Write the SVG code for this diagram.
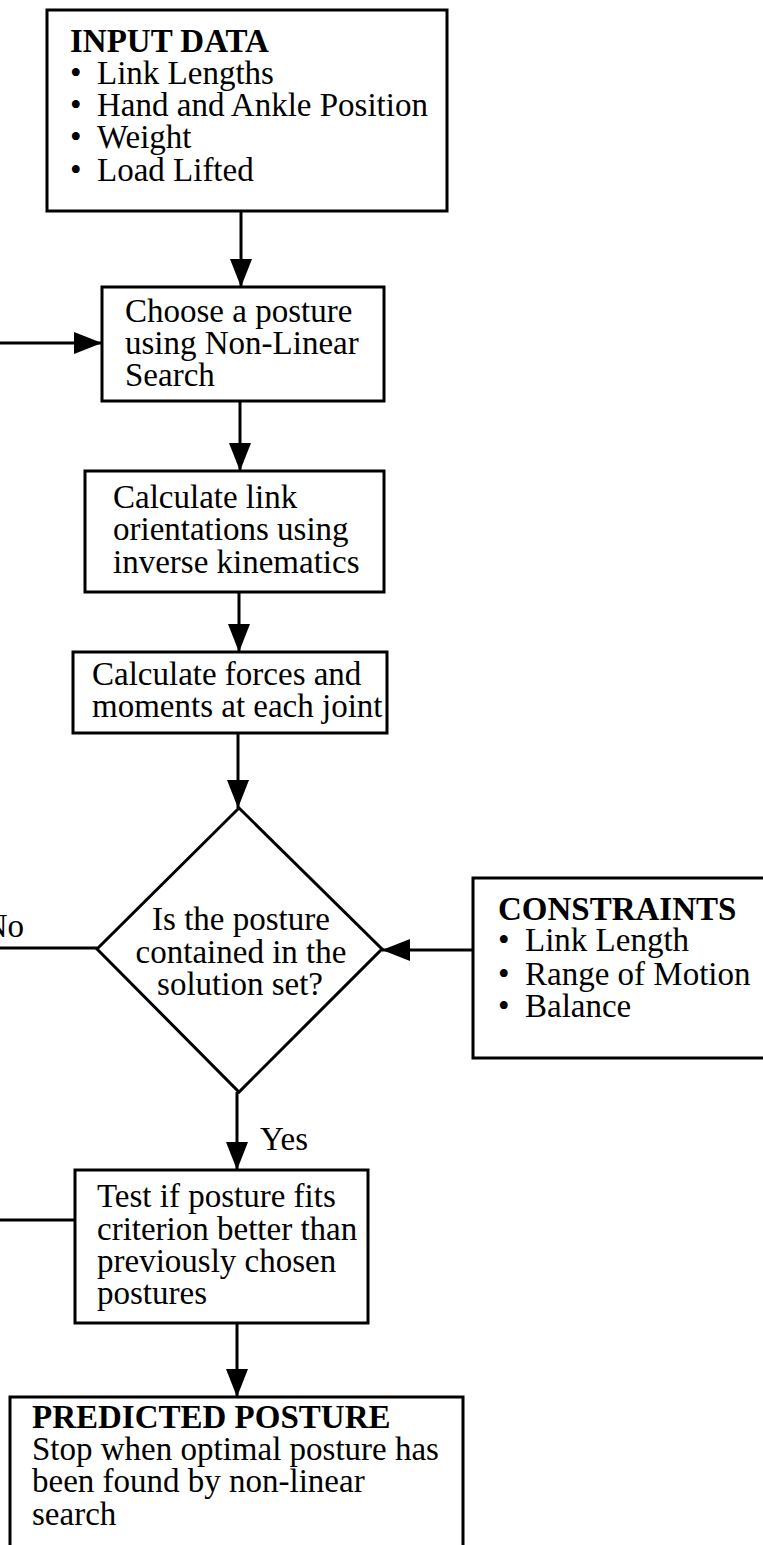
<svg xmlns="http://www.w3.org/2000/svg" width="763" height="1545" viewBox="0 0 763 1545">
<style>
  .box { fill: #fff; stroke: #000; stroke-width: 3; }
  .ln { fill: none; stroke: #000; stroke-width: 3; }
  .arr { marker-end: url(#ah); }
  text { font-family: "Liberation Serif", "Times New Roman", serif; font-size: 33px; fill: #000; }
  .b { font-weight: bold; }
  .c { text-anchor: middle; }
</style>
<defs>
  <marker id="ah" markerUnits="userSpaceOnUse" markerWidth="30" markerHeight="24" refX="28" refY="11" orient="auto">
    <path d="M0,0 L28,11 L0,22 z" fill="#000"/>
  </marker>
</defs>
<rect width="763" height="1545" fill="#fff"/>

<g id="connectors">
  <line class="ln arr" x1="241" y1="211" x2="241" y2="287"/>
  <line class="ln arr" x1="0" y1="343" x2="102" y2="343"/>
  <line class="ln arr" x1="240" y1="401" x2="240" y2="471"/>
  <line class="ln arr" x1="239" y1="592" x2="239" y2="652"/>
  <line class="ln arr" x1="238" y1="733" x2="238" y2="808"/>
  <line class="ln arr" x1="237" y1="1092" x2="237" y2="1170"/>
  <line class="ln arr" x1="237" y1="1323" x2="237" y2="1397"/>
  <line class="ln arr" x1="473" y1="950" x2="382" y2="950"/>
  <line class="ln" x1="0" y1="948" x2="97" y2="948"/>
  <line class="ln" x1="0" y1="1220" x2="75" y2="1220"/>
  <text x="24" y="937" text-anchor="end">No</text>
  <text x="260" y="1150">Yes</text>
</g>

<g id="input-data">
  <rect class="box" x="47" y="10" width="400" height="201"/>
  <text class="b" x="70" y="52">INPUT DATA</text>
  <text x="70" y="84">•</text><text x="97" y="84">Link Lengths</text>
  <text x="70" y="116">•</text><text x="97" y="116">Hand and Ankle Position</text>
  <text x="70" y="148">•</text><text x="97" y="148">Weight</text>
  <text x="70" y="181">•</text><text x="97" y="181">Load Lifted</text>
</g>

<g id="choose-posture">
  <rect class="box" x="102" y="287" width="282" height="114"/>
  <text x="125" y="322">Choose a posture</text>
  <text x="125" y="354">using Non-Linear</text>
  <text x="125" y="386">Search</text>
</g>

<g id="link-orientations">
  <rect class="box" x="85" y="471" width="299" height="121"/>
  <text x="113" y="508">Calculate link</text>
  <text x="113" y="540">orientations using</text>
  <text x="113" y="573">inverse kinematics</text>
</g>

<g id="forces-moments">
  <rect class="box" x="73" y="652" width="314" height="81"/>
  <text x="92" y="685">Calculate forces and</text>
  <text x="92" y="717">moments at each joint</text>
</g>

<g id="decision">
  <polygon class="box" points="239,808 382,949 239,1092 97,949"/>
  <text class="c" x="241" y="930">Is the posture</text>
  <text class="c" x="241" y="963">contained in the</text>
  <text class="c" x="240" y="995">solution set?</text>
</g>

<g id="constraints">
  <rect class="box" x="473" y="878" width="330" height="180"/>
  <text class="b" x="498" y="920">CONSTRAINTS</text>
  <text x="498" y="951">•</text><text x="525" y="951">Link Length</text>
  <text x="498" y="985">•</text><text x="525" y="985">Range of Motion</text>
  <text x="498" y="1017">•</text><text x="525" y="1017">Balance</text>
</g>

<g id="test-criterion">
  <rect class="box" x="75" y="1170" width="293" height="153"/>
  <text x="97" y="1207">Test if posture fits</text>
  <text x="97" y="1240">criterion better than</text>
  <text x="97" y="1272">previously chosen</text>
  <text x="97" y="1304">postures</text>
</g>

<g id="predicted-posture">
  <rect class="box" x="10" y="1397" width="453" height="170"/>
  <text class="b" x="32" y="1428">PREDICTED POSTURE</text>
  <text x="32" y="1460">Stop when optimal posture has</text>
  <text x="32" y="1492">been found by non-linear</text>
  <text x="32" y="1525">search</text>
</g>
</svg>
